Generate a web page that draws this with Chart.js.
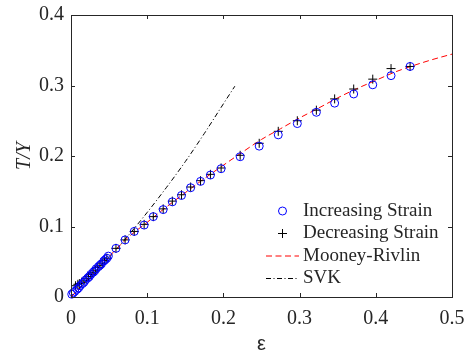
<!DOCTYPE html>
<html>
<head>
<meta charset="utf-8">
<script src="https://cdn.jsdelivr.net/npm/chart.js@4.4.1/dist/chart.umd.min.js"></script>
<style>
  html, body { margin: 0; padding: 0; background: #fff; }
</style>
</head>
<body>
<canvas id="StrainChart" width="466" height="356"></canvas>
<script>
// increasing strain (circles)
const incStrain = [0.001, 0.003, 0.005, 0.008, 0.010, 0.012, 0.015, 0.017, 0.019, 0.022, 0.024, 0.026, 0.029, 0.031, 0.033, 0.036, 0.038, 0.040, 0.043, 0.045, 0.047, 0.049,
	0.059, 0.071, 0.083, 0.096, 0.108, 0.121, 0.133, 0.145, 0.157, 0.170, 0.183, 0.197, 0.222, 0.247, 0.272, 0.297, 0.322, 0.346, 0.371, 0.396, 0.420, 0.445]
const incStress = [0.004, 0.006, 0.008, 0.011, 0.013, 0.016, 0.019, 0.021, 0.024, 0.027, 0.029, 0.032, 0.035, 0.037, 0.040, 0.043, 0.045, 0.047, 0.051, 0.053, 0.055, 0.058,
	0.069, 0.081, 0.093, 0.102, 0.114, 0.124, 0.135, 0.144, 0.155, 0.164, 0.173, 0.182, 0.199, 0.214, 0.230, 0.246, 0.262, 0.275, 0.288, 0.301, 0.314, 0.327]

// decreasing strain (plus signs)
const decStrain = [0.006, 0.009, 0.011, 0.014, 0.017, 0.020, 0.023, 0.026, 0.029, 0.032, 0.035, 0.038, 0.041, 0.044, 0.047,
	0.059, 0.071, 0.083, 0.096, 0.108, 0.121, 0.133, 0.145, 0.157, 0.170, 0.183, 0.197, 0.222, 0.247, 0.272, 0.297, 0.322, 0.346, 0.371, 0.396, 0.420, 0.445]
const decStress = [0.016, 0.018, 0.019, 0.021, 0.023, 0.026, 0.029, 0.032, 0.035, 0.038, 0.042, 0.045, 0.048, 0.052, 0.055,
	0.069, 0.081, 0.093, 0.103, 0.114, 0.125, 0.136, 0.145, 0.156, 0.165, 0.174, 0.183, 0.201, 0.218, 0.235, 0.250, 0.265, 0.281, 0.295, 0.309, 0.324, 0.327]

// model curves
const mrStrain = [0, 0.025, 0.05, 0.075, 0.1, 0.125, 0.15, 0.175, 0.2, 0.225, 0.25, 0.275, 0.3, 0.325, 0.35, 0.375, 0.4, 0.425, 0.45, 0.475, 0.5]
const mrStress = [0, 0.029, 0.0575, 0.0845, 0.106, 0.1275, 0.148, 0.168, 0.187, 0.2055, 0.2235, 0.2387, 0.254, 0.268, 0.2825, 0.2955, 0.3073, 0.319, 0.3285, 0.337, 0.3445]
const svkStrain = [0, 0.025, 0.05, 0.075, 0.1, 0.125, 0.15, 0.175, 0.2, 0.215]
const svkStress = [0, 0.027, 0.056, 0.087, 0.120, 0.155, 0.192, 0.232, 0.274, 0.299]

const xTicks = [0, 0.1, 0.2, 0.3, 0.4, 0.5]
const yTicks = [0, 0.1, 0.2, 0.3, 0.4]

const toPoints = (xs, ys) => xs.map((x, i) => ({ x: x, y: ys[i] }))

const axisColor = "#262626"
const serif = "'Liberation Serif', 'Times New Roman', serif"

// box round the axes with inward ticks on all four sides
const boxPlugin = {
	id: "boxAxes",
	afterDatasetsDraw(chart) {
		const { ctx, chartArea: a, scales } = chart
		ctx.save()
		ctx.strokeStyle = axisColor
		ctx.lineWidth = 1
		ctx.strokeRect(Math.round(a.left) + 0.5, Math.round(a.top) + 0.5, Math.round(a.right - a.left), Math.round(a.bottom - a.top))
		ctx.beginPath()
		xTicks.forEach((v) => {
			const px = Math.round(scales.x.getPixelForValue(v)) + 0.5
			ctx.moveTo(px, a.bottom)
			ctx.lineTo(px, a.bottom - 4)
			ctx.moveTo(px, a.top)
			ctx.lineTo(px, a.top + 4)
		})
		yTicks.forEach((v) => {
			const py = Math.round(scales.y.getPixelForValue(v)) + 0.5
			ctx.moveTo(a.left, py)
			ctx.lineTo(a.left + 4, py)
			ctx.moveTo(a.right, py)
			ctx.lineTo(a.right - 4, py)
		})
		ctx.stroke()
		ctx.restore()
	},
}

// legend in the lower right corner of the axes
const legendPlugin = {
	id: "cornerLegend",
	afterDraw(chart) {
		const { ctx, chartArea: a } = chart
		const textX = a.right - 149
		let rowY = a.bottom - 86
		ctx.save()
		ctx.font = "19px " + serif
		ctx.textBaseline = "middle"
		ctx.fillStyle = axisColor
		chart.data.datasets.forEach((ds) => {
			const mid = textX - 20.5
			ctx.strokeStyle = ds.borderColor
			ctx.lineWidth = 1
			if (ds.showLine) {
				ctx.setLineDash(ds.borderDash || [])
				ctx.beginPath()
				ctx.moveTo(textX - 37, rowY)
				ctx.lineTo(textX - 4, rowY)
				ctx.stroke()
				ctx.setLineDash([])
			} else if (ds.pointStyle === "circle") {
				ctx.beginPath()
				ctx.arc(mid, rowY, ds.pointRadius, 0, Math.PI * 2)
				ctx.stroke()
			} else {
				ctx.beginPath()
				ctx.moveTo(mid - ds.pointRadius, rowY)
				ctx.lineTo(mid + ds.pointRadius, rowY)
				ctx.moveTo(mid, rowY - ds.pointRadius)
				ctx.lineTo(mid, rowY + ds.pointRadius)
				ctx.stroke()
			}
			ctx.fillText(ds.label, textX, rowY)
			rowY += 22.5
		})
		ctx.restore()
	},
}

new Chart(document.getElementById("StrainChart").getContext("2d"), {
	type: "scatter",
	data: {
		datasets: [
			{
				label: "Increasing Strain",
				data: toPoints(incStrain, incStress),
				pointStyle: "circle",
				pointRadius: 4,
				borderColor: "#0000ff",
				backgroundColor: "rgba(0,0,0,0)",
				borderWidth: 1,
				clip: false,
				showLine: false,
			},
			{
				label: "Decreasing Strain",
				data: toPoints(decStrain, decStress),
				pointStyle: "cross",
				pointRadius: 4.5,
				borderColor: "#000000",
				backgroundColor: "#000000",
				borderWidth: 1,
				clip: false,
				showLine: false,
			},
			{
				label: "Mooney-Rivlin",
				data: toPoints(mrStrain, mrStress),
				showLine: true,
				pointRadius: 0,
				borderColor: "#ff0000",
				borderWidth: 1,
				borderDash: [6, 3.5],
				cubicInterpolationMode: "monotone",
			},
			{
				label: "SVK",
				data: toPoints(svkStrain, svkStress),
				showLine: true,
				pointRadius: 0,
				borderColor: "#000000",
				borderWidth: 1,
				borderDash: [5, 2.5, 1, 2.5],
				cubicInterpolationMode: "monotone",
			},
		],
	},
	options: {
		responsive: false,
		animation: false,
		layout: { padding: { top: 15, right: 14, left: 0, bottom: 0 } },
		plugins: {
			legend: { display: false },
			tooltip: { enabled: false },
		},
		scales: {
			x: {
				type: "linear",
				min: 0,
				max: 0.5,
				afterBuildTicks: (scale) => {
					scale.ticks = xTicks.map((v) => ({ value: v }))
				},
				afterFit: (scale) => {
					scale.height = 59
					scale.paddingLeft = 0
					scale.paddingRight = 0
				},
				grid: { display: false, drawTicks: false },
				border: { display: false },
				ticks: { color: axisColor, font: { family: serif, size: 20 }, padding: 10, maxRotation: 0 },
				title: {
					display: true,
					text: "ε",
					color: axisColor,
					font: { family: "'Liberation Sans', Arial, sans-serif", size: 20 },
					padding: { top: 0, bottom: 0 },
				},
			},
			y: {
				type: "linear",
				min: 0,
				max: 0.4,
				afterBuildTicks: (scale) => {
					scale.ticks = yTicks.map((v) => ({ value: v }))
				},
				afterFit: (scale) => {
					scale.width = 71
					scale.paddingTop = 0
					scale.paddingBottom = 0
				},
				grid: { display: false, drawTicks: false },
				border: { display: false },
				ticks: { color: axisColor, font: { family: serif, size: 20 }, padding: 7 },
				title: {
					display: true,
					text: "T/Y",
					color: axisColor,
					font: { family: serif, size: 20, style: "italic" },
					padding: { top: 13, bottom: 0 },
				},
			},
		},
	},
	plugins: [boxPlugin, legendPlugin],
})
</script>
</body>
</html>
